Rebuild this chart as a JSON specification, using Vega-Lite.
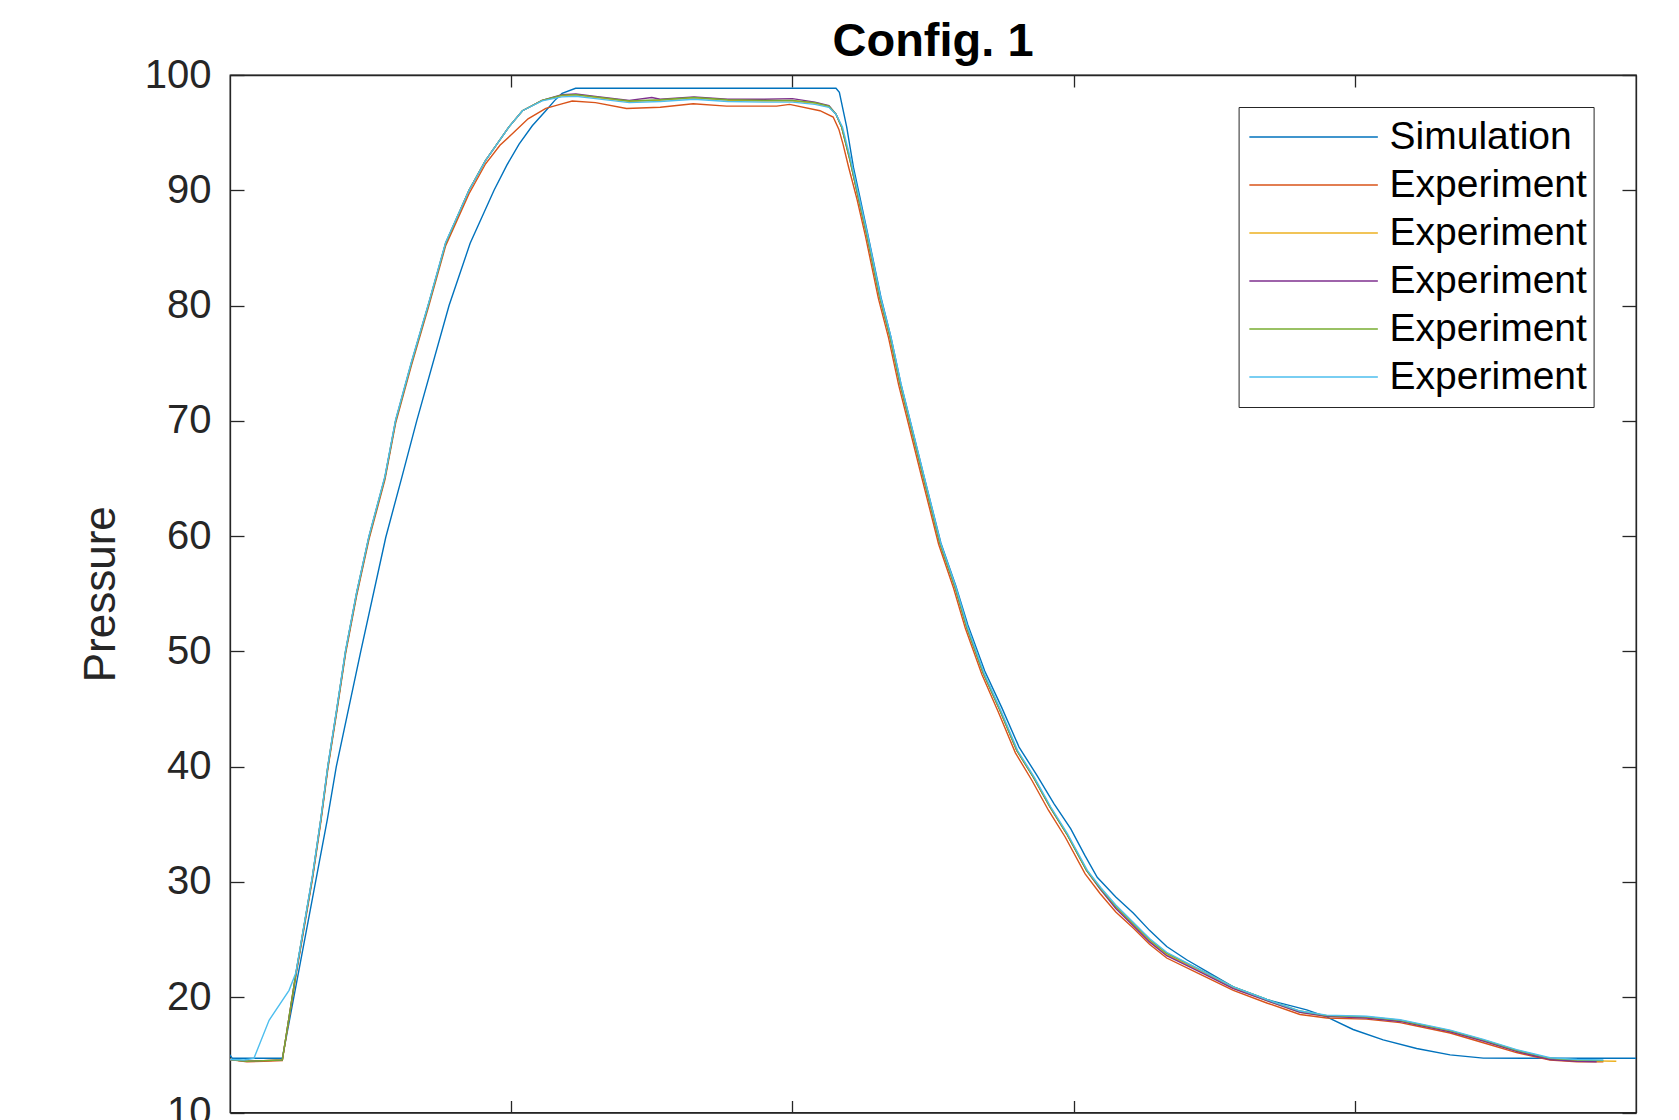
{
  "$schema": "https://vega.github.io/schema/vega-lite/v6.json",
  "width": 1406,
  "height": 1037.5,
  "autosize": {"type": "none"},
  "padding": {"left": 230, "top": 75, "right": 43, "bottom": 7.5},
  "background": "white",
  "title": {"text": "Config. 1", "font": "Liberation Sans", "fontSize": 47, "fontWeight": "bold", "color": "#000000", "anchor": "middle", "frame": "group", "baseline": "alphabetic", "offset": -48},
  "config": {"view": {"stroke": "#262626", "strokeWidth": 1.3}},
  "data": {"values": [
    {"s":"Simulation","x":0,"y":15.0},{"s":"Simulation","x":0.008,"y":14.7},{"s":"Simulation","x":0.186,"y":14.7},{"s":"Simulation","x":0.346,"y":35.4},{"s":"Simulation","x":0.378,"y":40.0},{"s":"Simulation","x":0.465,"y":50.0},{"s":"Simulation","x":0.554,"y":59.9},{"s":"Simulation","x":0.611,"y":65.1},{"s":"Simulation","x":0.664,"y":70.0},{"s":"Simulation","x":0.779,"y":80.0},{"s":"Simulation","x":0.854,"y":85.4},{"s":"Simulation","x":0.939,"y":90.0},{"s":"Simulation","x":0.985,"y":92.2},{"s":"Simulation","x":1.028,"y":94.0},{"s":"Simulation","x":1.075,"y":95.6},{"s":"Simulation","x":1.123,"y":96.9},{"s":"Simulation","x":1.155,"y":97.8},{"s":"Simulation","x":1.181,"y":98.4},{"s":"Simulation","x":1.229,"y":98.85},{"s":"Simulation","x":2.155,"y":98.85},{"s":"Simulation","x":2.167,"y":98.5},{"s":"Simulation","x":2.193,"y":95.5},{"s":"Simulation","x":2.217,"y":92.0},{"s":"Simulation","x":2.24,"y":89.4},{"s":"Simulation","x":2.268,"y":86.2},{"s":"Simulation","x":2.315,"y":80.7},{"s":"Simulation","x":2.35,"y":77.3},{"s":"Simulation","x":2.386,"y":73.2},{"s":"Simulation","x":2.421,"y":69.8},{"s":"Simulation","x":2.469,"y":65.1},{"s":"Simulation","x":2.528,"y":59.4},{"s":"Simulation","x":2.581,"y":55.7},{"s":"Simulation","x":2.624,"y":52.3},{"s":"Simulation","x":2.684,"y":48.3},{"s":"Simulation","x":2.745,"y":45.1},{"s":"Simulation","x":2.806,"y":41.7},{"s":"Simulation","x":2.868,"y":39.3},{"s":"Simulation","x":2.93,"y":36.8},{"s":"Simulation","x":2.99,"y":34.6},{"s":"Simulation","x":3.04,"y":32.3},{"s":"Simulation","x":3.084,"y":30.4},{"s":"Simulation","x":3.15,"y":28.7},{"s":"Simulation","x":3.212,"y":27.3},{"s":"Simulation","x":3.27,"y":25.8},{"s":"Simulation","x":3.331,"y":24.4},{"s":"Simulation","x":3.402,"y":23.25},{"s":"Simulation","x":3.49,"y":22.0},{"s":"Simulation","x":3.568,"y":20.9},{"s":"Simulation","x":3.687,"y":19.8},{"s":"Simulation","x":3.829,"y":18.9},{"s":"Simulation","x":3.9,"y":18.3},{"s":"Simulation","x":3.994,"y":17.2},{"s":"Simulation","x":4.101,"y":16.3},{"s":"Simulation","x":4.22,"y":15.55},{"s":"Simulation","x":4.339,"y":15.0},{"s":"Simulation","x":4.457,"y":14.72},{"s":"Simulation","x":4.6,"y":14.7},{"s":"Simulation","x":5.0,"y":14.7},

    {"s":"Exp1","x":0,"y":14.6},{"s":"Exp1","x":0.06,"y":14.4},{"s":"Exp1","x":0.12,"y":14.45},{"s":"Exp1","x":0.186,"y":14.5},{"s":"Exp1","x":0.234,"y":21.8},{"s":"Exp1","x":0.293,"y":30.2},{"s":"Exp1","x":0.323,"y":35.2},{"s":"Exp1","x":0.348,"y":39.8},{"s":"Exp1","x":0.38,"y":44.8},{"s":"Exp1","x":0.411,"y":49.8},{"s":"Exp1","x":0.45,"y":54.8},{"s":"Exp1","x":0.494,"y":59.7},{"s":"Exp1","x":0.551,"y":64.9},{"s":"Exp1","x":0.589,"y":69.8},{"s":"Exp1","x":0.645,"y":74.8},{"s":"Exp1","x":0.705,"y":79.8},{"s":"Exp1","x":0.767,"y":85.2},{"s":"Exp1","x":0.85,"y":89.7},{"s":"Exp1","x":0.909,"y":92.3},{"s":"Exp1","x":0.96,"y":93.9},{"s":"Exp1","x":1.004,"y":94.9},{"s":"Exp1","x":1.06,"y":96.2},{"s":"Exp1","x":1.123,"y":97.1},{"s":"Exp1","x":1.18,"y":97.5},{"s":"Exp1","x":1.217,"y":97.74},{"s":"Exp1","x":1.3,"y":97.6},{"s":"Exp1","x":1.41,"y":97.1},{"s":"Exp1","x":1.53,"y":97.2},{"s":"Exp1","x":1.647,"y":97.5},{"s":"Exp1","x":1.766,"y":97.3},{"s":"Exp1","x":1.944,"y":97.3},{"s":"Exp1","x":1.99,"y":97.45},{"s":"Exp1","x":2.098,"y":96.9},{"s":"Exp1","x":2.145,"y":96.35},{"s":"Exp1","x":2.165,"y":95.3},{"s":"Exp1","x":2.18,"y":94.0},{"s":"Exp1","x":2.2,"y":92.0},{"s":"Exp1","x":2.23,"y":89.2},{"s":"Exp1","x":2.26,"y":86.0},{"s":"Exp1","x":2.306,"y":80.6},{"s":"Exp1","x":2.342,"y":77.2},{"s":"Exp1","x":2.378,"y":73.1},{"s":"Exp1","x":2.413,"y":69.7},{"s":"Exp1","x":2.461,"y":65.0},{"s":"Exp1","x":2.52,"y":59.3},{"s":"Exp1","x":2.573,"y":55.5},{"s":"Exp1","x":2.615,"y":52.0},{"s":"Exp1","x":2.674,"y":48.0},{"s":"Exp1","x":2.733,"y":44.7},{"s":"Exp1","x":2.793,"y":41.2},{"s":"Exp1","x":2.852,"y":38.8},{"s":"Exp1","x":2.911,"y":36.2},{"s":"Exp1","x":2.97,"y":33.9},{"s":"Exp1","x":3.041,"y":30.7},{"s":"Exp1","x":3.094,"y":29.0},{"s":"Exp1","x":3.15,"y":27.4},{"s":"Exp1","x":3.212,"y":26.0},{"s":"Exp1","x":3.27,"y":24.6},{"s":"Exp1","x":3.331,"y":23.4},{"s":"Exp1","x":3.449,"y":22.0},{"s":"Exp1","x":3.568,"y":20.6},{"s":"Exp1","x":3.687,"y":19.5},{"s":"Exp1","x":3.805,"y":18.5},{"s":"Exp1","x":3.9,"y":18.2},{"s":"Exp1","x":4.041,"y":18.1},{"s":"Exp1","x":4.161,"y":17.8},{"s":"Exp1","x":4.22,"y":17.5},{"s":"Exp1","x":4.339,"y":16.9},{"s":"Exp1","x":4.457,"y":16.05},{"s":"Exp1","x":4.575,"y":15.2},{"s":"Exp1","x":4.694,"y":14.55},{"s":"Exp1","x":4.79,"y":14.4},{"s":"Exp1","x":4.884,"y":14.4},

    {"s":"Exp2","x":0,"y":14.6},{"s":"Exp2","x":0.06,"y":14.45},{"s":"Exp2","x":0.12,"y":14.5},{"s":"Exp2","x":0.186,"y":14.55},{"s":"Exp2","x":0.234,"y":22.0},{"s":"Exp2","x":0.293,"y":30.4},{"s":"Exp2","x":0.323,"y":35.4},{"s":"Exp2","x":0.348,"y":40.0},{"s":"Exp2","x":0.38,"y":45.0},{"s":"Exp2","x":0.411,"y":50.0},{"s":"Exp2","x":0.45,"y":55.0},{"s":"Exp2","x":0.494,"y":59.9},{"s":"Exp2","x":0.551,"y":65.1},{"s":"Exp2","x":0.589,"y":70.0},{"s":"Exp2","x":0.645,"y":75.0},{"s":"Exp2","x":0.705,"y":80.0},{"s":"Exp2","x":0.767,"y":85.4},{"s":"Exp2","x":0.85,"y":90.0},{"s":"Exp2","x":0.909,"y":92.6},{"s":"Exp2","x":0.992,"y":95.5},{"s":"Exp2","x":1.04,"y":96.9},{"s":"Exp2","x":1.11,"y":97.8},{"s":"Exp2","x":1.18,"y":98.2},{"s":"Exp2","x":1.23,"y":98.25},{"s":"Exp2","x":1.3,"y":98.05},{"s":"Exp2","x":1.42,"y":97.7},{"s":"Exp2","x":1.53,"y":97.8},{"s":"Exp2","x":1.65,"y":98.0},{"s":"Exp2","x":1.77,"y":97.8},{"s":"Exp2","x":1.9,"y":97.75},{"s":"Exp2","x":2.0,"y":97.75},{"s":"Exp2","x":2.08,"y":97.55},{"s":"Exp2","x":2.13,"y":97.25},{"s":"Exp2","x":2.155,"y":96.6},{"s":"Exp2","x":2.175,"y":95.5},{"s":"Exp2","x":2.205,"y":92.6},{"s":"Exp2","x":2.234,"y":89.4},{"s":"Exp2","x":2.264,"y":86.2},{"s":"Exp2","x":2.311,"y":80.7},{"s":"Exp2","x":2.347,"y":77.3},{"s":"Exp2","x":2.383,"y":73.2},{"s":"Exp2","x":2.418,"y":69.8},{"s":"Exp2","x":2.466,"y":65.1},{"s":"Exp2","x":2.525,"y":59.35},{"s":"Exp2","x":2.578,"y":55.6},{"s":"Exp2","x":2.62,"y":52.1},{"s":"Exp2","x":2.679,"y":48.1},{"s":"Exp2","x":2.738,"y":44.9},{"s":"Exp2","x":2.798,"y":41.4},{"s":"Exp2","x":2.857,"y":39.1},{"s":"Exp2","x":2.916,"y":36.5},{"s":"Exp2","x":2.975,"y":34.2},{"s":"Exp2","x":3.046,"y":31.0},{"s":"Exp2","x":3.094,"y":29.4},{"s":"Exp2","x":3.15,"y":27.8},{"s":"Exp2","x":3.212,"y":26.3},{"s":"Exp2","x":3.27,"y":24.9},{"s":"Exp2","x":3.331,"y":23.7},{"s":"Exp2","x":3.449,"y":22.3},{"s":"Exp2","x":3.568,"y":20.8},{"s":"Exp2","x":3.687,"y":19.7},{"s":"Exp2","x":3.805,"y":18.7},{"s":"Exp2","x":3.9,"y":18.35},{"s":"Exp2","x":4.041,"y":18.25},{"s":"Exp2","x":4.161,"y":17.95},{"s":"Exp2","x":4.22,"y":17.65},{"s":"Exp2","x":4.339,"y":17.05},{"s":"Exp2","x":4.457,"y":16.25},{"s":"Exp2","x":4.575,"y":15.35},{"s":"Exp2","x":4.694,"y":14.65},{"s":"Exp2","x":4.79,"y":14.5},{"s":"Exp2","x":4.93,"y":14.45},

    {"s":"Exp3","x":0,"y":14.6},{"s":"Exp3","x":0.06,"y":14.45},{"s":"Exp3","x":0.12,"y":14.5},{"s":"Exp3","x":0.186,"y":14.55},{"s":"Exp3","x":0.234,"y":22.0},{"s":"Exp3","x":0.293,"y":30.4},{"s":"Exp3","x":0.323,"y":35.4},{"s":"Exp3","x":0.348,"y":40.0},{"s":"Exp3","x":0.38,"y":45.0},{"s":"Exp3","x":0.411,"y":50.0},{"s":"Exp3","x":0.45,"y":55.0},{"s":"Exp3","x":0.494,"y":59.9},{"s":"Exp3","x":0.551,"y":65.1},{"s":"Exp3","x":0.589,"y":70.0},{"s":"Exp3","x":0.645,"y":75.0},{"s":"Exp3","x":0.705,"y":80.0},{"s":"Exp3","x":0.767,"y":85.4},{"s":"Exp3","x":0.85,"y":90.0},{"s":"Exp3","x":0.909,"y":92.6},{"s":"Exp3","x":0.992,"y":95.5},{"s":"Exp3","x":1.04,"y":96.9},{"s":"Exp3","x":1.11,"y":97.8},{"s":"Exp3","x":1.18,"y":98.3},{"s":"Exp3","x":1.23,"y":98.35},{"s":"Exp3","x":1.3,"y":98.15},{"s":"Exp3","x":1.42,"y":97.8},{"s":"Exp3","x":1.5,"y":98.05},{"s":"Exp3","x":1.53,"y":97.9},{"s":"Exp3","x":1.65,"y":98.1},{"s":"Exp3","x":1.77,"y":97.9},{"s":"Exp3","x":1.9,"y":97.9},{"s":"Exp3","x":2.0,"y":97.95},{"s":"Exp3","x":2.08,"y":97.65},{"s":"Exp3","x":2.13,"y":97.35},{"s":"Exp3","x":2.155,"y":96.6},{"s":"Exp3","x":2.175,"y":95.5},{"s":"Exp3","x":2.205,"y":92.6},{"s":"Exp3","x":2.234,"y":89.4},{"s":"Exp3","x":2.264,"y":86.2},{"s":"Exp3","x":2.311,"y":80.7},{"s":"Exp3","x":2.347,"y":77.3},{"s":"Exp3","x":2.383,"y":73.2},{"s":"Exp3","x":2.418,"y":69.8},{"s":"Exp3","x":2.466,"y":65.1},{"s":"Exp3","x":2.525,"y":59.35},{"s":"Exp3","x":2.578,"y":55.6},{"s":"Exp3","x":2.62,"y":52.1},{"s":"Exp3","x":2.679,"y":48.1},{"s":"Exp3","x":2.738,"y":44.9},{"s":"Exp3","x":2.798,"y":41.4},{"s":"Exp3","x":2.857,"y":39.1},{"s":"Exp3","x":2.916,"y":36.5},{"s":"Exp3","x":2.975,"y":34.2},{"s":"Exp3","x":3.046,"y":31.0},{"s":"Exp3","x":3.094,"y":29.4},{"s":"Exp3","x":3.15,"y":27.7},{"s":"Exp3","x":3.212,"y":26.2},{"s":"Exp3","x":3.27,"y":24.8},{"s":"Exp3","x":3.331,"y":23.6},{"s":"Exp3","x":3.449,"y":22.2},{"s":"Exp3","x":3.568,"y":20.75},{"s":"Exp3","x":3.687,"y":19.7},{"s":"Exp3","x":3.805,"y":18.7},{"s":"Exp3","x":3.9,"y":18.35},{"s":"Exp3","x":4.041,"y":18.2},{"s":"Exp3","x":4.161,"y":17.9},{"s":"Exp3","x":4.22,"y":17.6},{"s":"Exp3","x":4.339,"y":17.0},{"s":"Exp3","x":4.457,"y":16.2},{"s":"Exp3","x":4.575,"y":15.3},{"s":"Exp3","x":4.694,"y":14.6},{"s":"Exp3","x":4.79,"y":14.45},{"s":"Exp3","x":4.86,"y":14.4},

    {"s":"Exp4","x":0,"y":14.6},{"s":"Exp4","x":0.06,"y":14.45},{"s":"Exp4","x":0.12,"y":14.5},{"s":"Exp4","x":0.186,"y":14.55},{"s":"Exp4","x":0.234,"y":22.0},{"s":"Exp4","x":0.293,"y":30.4},{"s":"Exp4","x":0.323,"y":35.4},{"s":"Exp4","x":0.348,"y":40.0},{"s":"Exp4","x":0.38,"y":45.0},{"s":"Exp4","x":0.411,"y":50.0},{"s":"Exp4","x":0.45,"y":55.0},{"s":"Exp4","x":0.494,"y":59.9},{"s":"Exp4","x":0.551,"y":65.1},{"s":"Exp4","x":0.589,"y":70.0},{"s":"Exp4","x":0.645,"y":75.0},{"s":"Exp4","x":0.705,"y":80.0},{"s":"Exp4","x":0.767,"y":85.4},{"s":"Exp4","x":0.85,"y":90.0},{"s":"Exp4","x":0.909,"y":92.6},{"s":"Exp4","x":0.992,"y":95.5},{"s":"Exp4","x":1.04,"y":96.9},{"s":"Exp4","x":1.11,"y":97.8},{"s":"Exp4","x":1.18,"y":98.25},{"s":"Exp4","x":1.23,"y":98.3},{"s":"Exp4","x":1.3,"y":98.1},{"s":"Exp4","x":1.42,"y":97.75},{"s":"Exp4","x":1.53,"y":97.85},{"s":"Exp4","x":1.65,"y":98.05},{"s":"Exp4","x":1.77,"y":97.85},{"s":"Exp4","x":1.9,"y":97.8},{"s":"Exp4","x":2.0,"y":97.8},{"s":"Exp4","x":2.08,"y":97.6},{"s":"Exp4","x":2.13,"y":97.3},{"s":"Exp4","x":2.155,"y":96.6},{"s":"Exp4","x":2.175,"y":95.5},{"s":"Exp4","x":2.205,"y":92.6},{"s":"Exp4","x":2.234,"y":89.4},{"s":"Exp4","x":2.264,"y":86.2},{"s":"Exp4","x":2.311,"y":80.7},{"s":"Exp4","x":2.347,"y":77.3},{"s":"Exp4","x":2.383,"y":73.2},{"s":"Exp4","x":2.418,"y":69.8},{"s":"Exp4","x":2.466,"y":65.1},{"s":"Exp4","x":2.525,"y":59.35},{"s":"Exp4","x":2.578,"y":55.6},{"s":"Exp4","x":2.62,"y":52.1},{"s":"Exp4","x":2.679,"y":48.1},{"s":"Exp4","x":2.738,"y":44.9},{"s":"Exp4","x":2.798,"y":41.4},{"s":"Exp4","x":2.857,"y":39.1},{"s":"Exp4","x":2.916,"y":36.5},{"s":"Exp4","x":2.975,"y":34.2},{"s":"Exp4","x":3.046,"y":31.0},{"s":"Exp4","x":3.094,"y":29.5},{"s":"Exp4","x":3.15,"y":27.9},{"s":"Exp4","x":3.212,"y":26.4},{"s":"Exp4","x":3.27,"y":25.0},{"s":"Exp4","x":3.331,"y":23.8},{"s":"Exp4","x":3.449,"y":22.4},{"s":"Exp4","x":3.568,"y":20.9},{"s":"Exp4","x":3.687,"y":19.8},{"s":"Exp4","x":3.805,"y":18.8},{"s":"Exp4","x":3.9,"y":18.4},{"s":"Exp4","x":4.041,"y":18.3},{"s":"Exp4","x":4.161,"y":18.0},{"s":"Exp4","x":4.22,"y":17.7},{"s":"Exp4","x":4.339,"y":17.1},{"s":"Exp4","x":4.457,"y":16.3},{"s":"Exp4","x":4.575,"y":15.4},{"s":"Exp4","x":4.694,"y":14.7},{"s":"Exp4","x":4.79,"y":14.55},{"s":"Exp4","x":4.884,"y":14.5},

    {"s":"Exp5","x":0,"y":14.6},{"s":"Exp5","x":0.05,"y":14.55},{"s":"Exp5","x":0.085,"y":14.7},{"s":"Exp5","x":0.139,"y":18.0},{"s":"Exp5","x":0.21,"y":20.6},{"s":"Exp5","x":0.234,"y":22.1},{"s":"Exp5","x":0.293,"y":30.5},{"s":"Exp5","x":0.323,"y":35.5},{"s":"Exp5","x":0.348,"y":40.1},{"s":"Exp5","x":0.38,"y":45.1},{"s":"Exp5","x":0.411,"y":50.1},{"s":"Exp5","x":0.45,"y":55.1},{"s":"Exp5","x":0.494,"y":60.0},{"s":"Exp5","x":0.551,"y":65.2},{"s":"Exp5","x":0.589,"y":70.1},{"s":"Exp5","x":0.645,"y":75.1},{"s":"Exp5","x":0.705,"y":80.1},{"s":"Exp5","x":0.767,"y":85.5},{"s":"Exp5","x":0.85,"y":90.0},{"s":"Exp5","x":0.909,"y":92.6},{"s":"Exp5","x":0.992,"y":95.5},{"s":"Exp5","x":1.04,"y":96.9},{"s":"Exp5","x":1.11,"y":97.75},{"s":"Exp5","x":1.18,"y":98.1},{"s":"Exp5","x":1.23,"y":98.15},{"s":"Exp5","x":1.3,"y":97.95},{"s":"Exp5","x":1.42,"y":97.6},{"s":"Exp5","x":1.53,"y":97.7},{"s":"Exp5","x":1.65,"y":97.9},{"s":"Exp5","x":1.77,"y":97.7},{"s":"Exp5","x":1.9,"y":97.65},{"s":"Exp5","x":2.0,"y":97.65},{"s":"Exp5","x":2.08,"y":97.45},{"s":"Exp5","x":2.13,"y":97.2},{"s":"Exp5","x":2.155,"y":96.6},{"s":"Exp5","x":2.178,"y":95.5},{"s":"Exp5","x":2.208,"y":92.6},{"s":"Exp5","x":2.237,"y":89.4},{"s":"Exp5","x":2.267,"y":86.2},{"s":"Exp5","x":2.314,"y":80.7},{"s":"Exp5","x":2.35,"y":77.3},{"s":"Exp5","x":2.386,"y":73.2},{"s":"Exp5","x":2.421,"y":69.8},{"s":"Exp5","x":2.469,"y":65.1},{"s":"Exp5","x":2.528,"y":59.35},{"s":"Exp5","x":2.581,"y":55.6},{"s":"Exp5","x":2.623,"y":52.1},{"s":"Exp5","x":2.682,"y":48.1},{"s":"Exp5","x":2.741,"y":44.9},{"s":"Exp5","x":2.801,"y":41.4},{"s":"Exp5","x":2.86,"y":39.1},{"s":"Exp5","x":2.919,"y":36.5},{"s":"Exp5","x":2.978,"y":34.2},{"s":"Exp5","x":3.049,"y":31.0},{"s":"Exp5","x":3.097,"y":29.5},{"s":"Exp5","x":3.15,"y":28.0},{"s":"Exp5","x":3.212,"y":26.5},{"s":"Exp5","x":3.27,"y":25.1},{"s":"Exp5","x":3.331,"y":23.9},{"s":"Exp5","x":3.449,"y":22.4},{"s":"Exp5","x":3.568,"y":20.9},{"s":"Exp5","x":3.687,"y":19.8},{"s":"Exp5","x":3.805,"y":18.8},{"s":"Exp5","x":3.9,"y":18.45},{"s":"Exp5","x":4.041,"y":18.35},{"s":"Exp5","x":4.161,"y":18.05},{"s":"Exp5","x":4.22,"y":17.75},{"s":"Exp5","x":4.339,"y":17.15},{"s":"Exp5","x":4.457,"y":16.35},{"s":"Exp5","x":4.575,"y":15.45},{"s":"Exp5","x":4.694,"y":14.75},{"s":"Exp5","x":4.79,"y":14.6},{"s":"Exp5","x":4.884,"y":14.55}
  ]},
  "layer": [
    {
      "mark": {"type": "line", "strokeWidth": 1.4, "clip": true},
      "encoding": {
        "x": {"field": "x", "type": "quantitative",
          "scale": {"domain": [0, 5], "nice": false, "zero": false},
          "axis": {"orient": "bottom", "values": [1, 2, 3, 4], "labels": false, "title": null, "grid": false,
            "tickSize": -12, "tickColor": "#262626", "tickWidth": 1.3, "domainColor": "#262626", "domainWidth": 1.3}},
        "y": {"field": "y", "type": "quantitative",
          "scale": {"domain": [10, 100], "nice": false, "zero": false},
          "axis": {"orient": "left", "values": [10, 20, 30, 40, 50, 60, 70, 80, 90, 100], "grid": false,
            "tickSize": -14, "tickColor": "#262626", "tickWidth": 1.3, "domainColor": "#262626", "domainWidth": 1.3,
            "labelPadding": 33, "labelFont": "Liberation Sans", "labelFontSize": 40, "labelColor": "#262626",
            "title": "Pressure", "titleFont": "Liberation Sans", "titleFontSize": 44, "titleFontWeight": "normal",
            "titleColor": "#262626", "titleX": -116, "titleY": 518.75, "titleAngle": -90, "titleBaseline": "alphabetic", "titleAlign": "center"}},
        "color": {"field": "s", "type": "nominal",
          "scale": {"domain": ["Simulation", "Exp1", "Exp2", "Exp3", "Exp4", "Exp5"],
                    "range": ["#0072BD", "#D95319", "#EDB120", "#7E2F8E", "#77AC30", "#4DBEEE"]},
          "legend": {"orient": "none", "legendX": 1008.6, "legendY": 32, "title": null,
            "symbolType": "stroke", "symbolSize": 16512, "symbolStrokeWidth": 1.5,
            "clipHeight": 48, "rowPadding": 0, "padding": 6, "symbolOffset": 4, "labelOffset": 11,
            "labelFont": "Liberation Sans", "labelFontSize": 39, "labelColor": "#000000", "labelLimit": 0,
            "labelExpr": "datum.label == 'Simulation' ? 'Simulation' : 'Experiment  '",
            "strokeColor": "#262626", "fillColor": "#ffffff"}}
      }
    },
    {
      "mark": {"type": "line", "opacity": 0, "strokeOpacity": 0},
      "encoding": {
        "x": {"field": "x", "type": "quantitative",
          "scale": {"domain": [0, 5], "nice": false, "zero": false},
          "axis": {"orient": "top", "values": [1, 2, 3, 4], "labels": false, "title": null, "grid": false,
            "tickSize": -12, "tickColor": "#262626", "tickWidth": 1.3, "domainColor": "#262626", "domainWidth": 1.3}},
        "y": {"field": "y", "type": "quantitative",
          "scale": {"domain": [10, 100], "nice": false, "zero": false},
          "axis": {"orient": "right", "values": [10, 20, 30, 40, 50, 60, 70, 80, 90, 100], "labels": false, "title": null, "grid": false,
            "tickSize": -14, "tickColor": "#262626", "tickWidth": 1.3, "domainColor": "#262626", "domainWidth": 1.3}},
        "detail": {"field": "s", "type": "nominal"}
      }
    }
  ],
  "resolve": {"axis": {"x": "independent", "y": "independent"}}
}
